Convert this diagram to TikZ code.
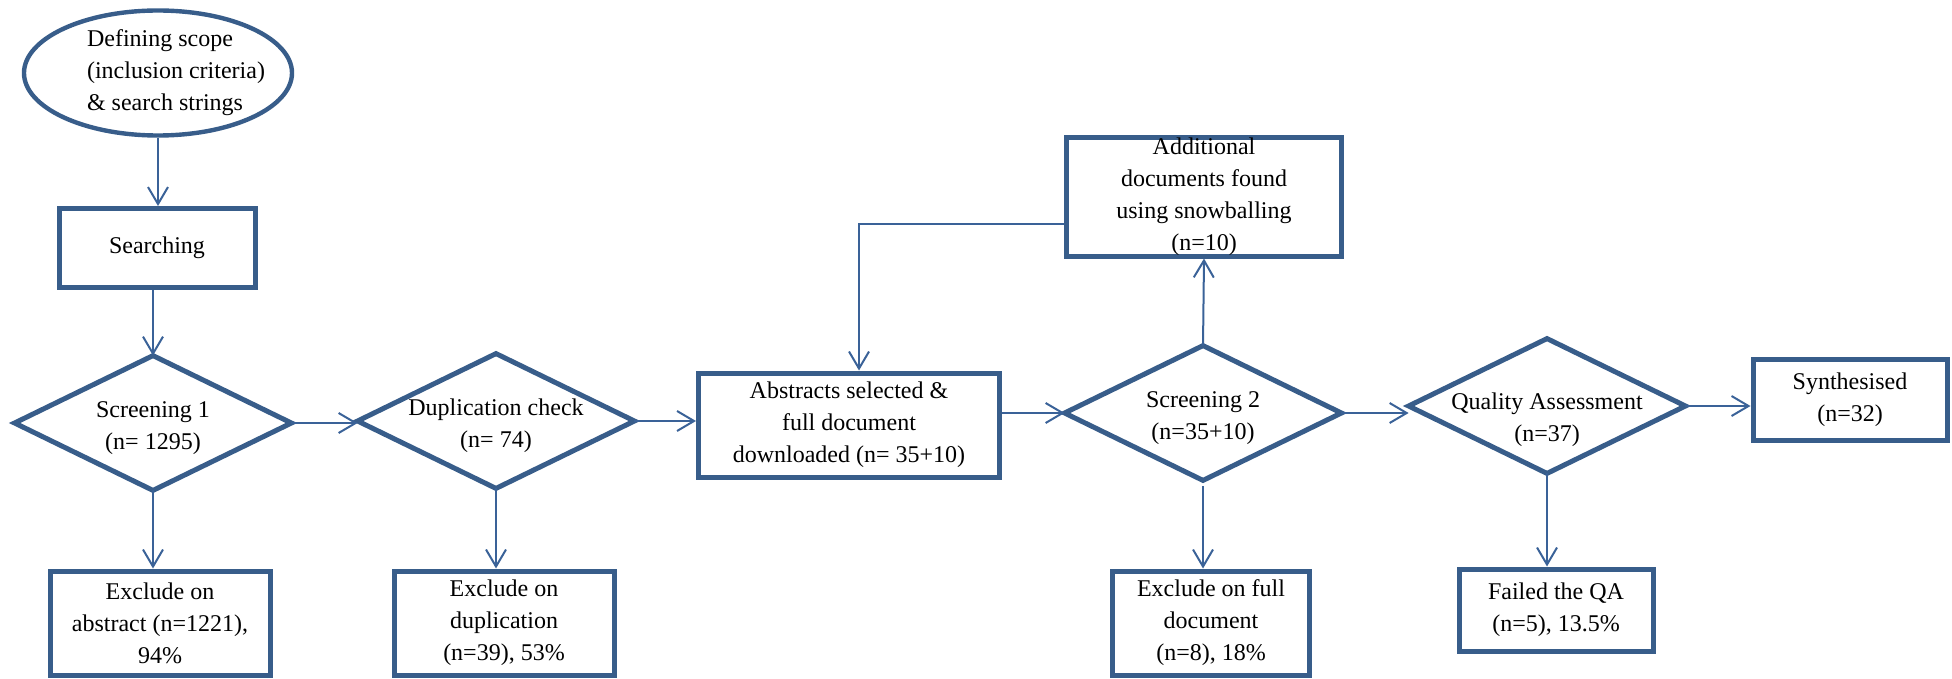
\documentclass[tikz,border=0pt]{standalone}
\usepackage{fontspec}
\setmainfont{Liberation Serif}
\usepackage{tikz}
\usetikzlibrary{arrows.meta, shapes.geometric, positioning, calc}
\definecolor{boxblue}{HTML}{385D8A}
\definecolor{lineblue}{HTML}{3A6298}

\begin{document}
\begin{tikzpicture}[x=0.5pt, y=-0.5pt, >={Straight Barb[length=8.5pt,width=10pt]},
    every node/.style={font=\fontsize{12}{16}\selectfont, align=center, inner sep=0pt},
    box/.style={draw=boxblue, line width=2.5pt, rectangle},
    oval/.style={draw=boxblue, line width=2.2pt, ellipse},
    dia/.style={rectangle, minimum width=138pt, minimum height=67pt},
    edge/.style={draw=boxblue, line width=2.5pt},
    link/.style={draw=lineblue, line width=1pt, ->}]
\useasboundingbox (0,0) rectangle (1952,679);

\node[oval, minimum width=134pt, minimum height=62.5pt,
      label={[align=left, xshift=9pt]center:{Defining scope\\(inclusion criteria)\\\& search strings}}]
    (scope) at (158,73) {};
\node[box, minimum width=98pt, minimum height=39.5pt] (search) at (157,248) {Searching};

\node[dia, label={[yshift=-2.5pt]center:{Screening 1\\(n= 1295)}}] (scr1) at (153,423) {};
\node[dia, label={[yshift=-2.5pt]center:{Duplication check\\(n= 74)}}] (dup) at (496,421) {};
\node[box, minimum width=150.5pt, minimum height=52pt] (abs) at (849,425)
    {Abstracts selected \&\\full document\\downloaded (n= 35+10)};
\node[dia, label={[yshift=-2.5pt]center:{Screening 2\\(n=35+10)}}] (scr2) at (1203,413) {};
\node[dia, label={[yshift=-7pt]center:{Quality Assessment\\(n=37)}}] (qa) at (1547,406) {};
\node[box, minimum width=97pt, minimum height=40.5pt] (syn) at (1850,400) {Synthesised\\(n=32)};

\node[box, minimum width=137.5pt, minimum height=59pt] (snow) at (1204,197)
    {Additional\\documents found\\using snowballing\\(n=10)};

\node[box, minimum width=110pt, minimum height=52pt] (exab) at (160,623)
    {Exclude on\\abstract (n=1221),\\94\%};
\node[box, minimum width=110pt, minimum height=52pt] (exdup) at (504,623)
    {Exclude on\\duplication\\(n=39), 53\%};
\node[box, minimum width=98.5pt, minimum height=52pt] (exfull) at (1211,623)
    {Exclude on full\\document\\(n=8), 18\%};
\node[box, minimum width=97pt, minimum height=41pt] (fail) at (1556,610)
    {Failed the QA\\(n=5), 13.5\%};

% decision diamonds
\foreach \d in {scr1,dup,scr2,qa}
{
    \draw[edge] (\d.west) -- (\d.north) -- (\d.east) -- (\d.south) -- cycle;
}

\draw[link] (scope.south) -- (scope.south |- search.north);
\draw[link] (scr1.north |- search.south) -- (scr1.north);
\draw[link] (scr1.south) -- (scr1.south |- exab.north);
\draw[link] (scr1.east) -- (scr1.east -| dup.west);
\draw[link] (dup.south) -- (dup.south |- exdup.north);
\draw[link] (dup.east) -- (dup.east -| abs.west);
\draw[link] (abs.east |- scr2.west) -- (scr2.west);
\draw[link] (scr2.north) -- (snow.south);
\draw[link] ($(snow.west)+(0,27)$) -| ($(abs.north)+(10,0)$);
\draw[link, shorten <=3pt] (scr2.south) -- (scr2.south |- exfull.north);
\draw[link] (scr2.east) -- (scr2.east -| qa.west);
\draw[link] (qa.east) -- (qa.east -| syn.west);
\draw[link] (qa.south) -- (qa.south |- fail.north);
\end{tikzpicture}
\end{document}
